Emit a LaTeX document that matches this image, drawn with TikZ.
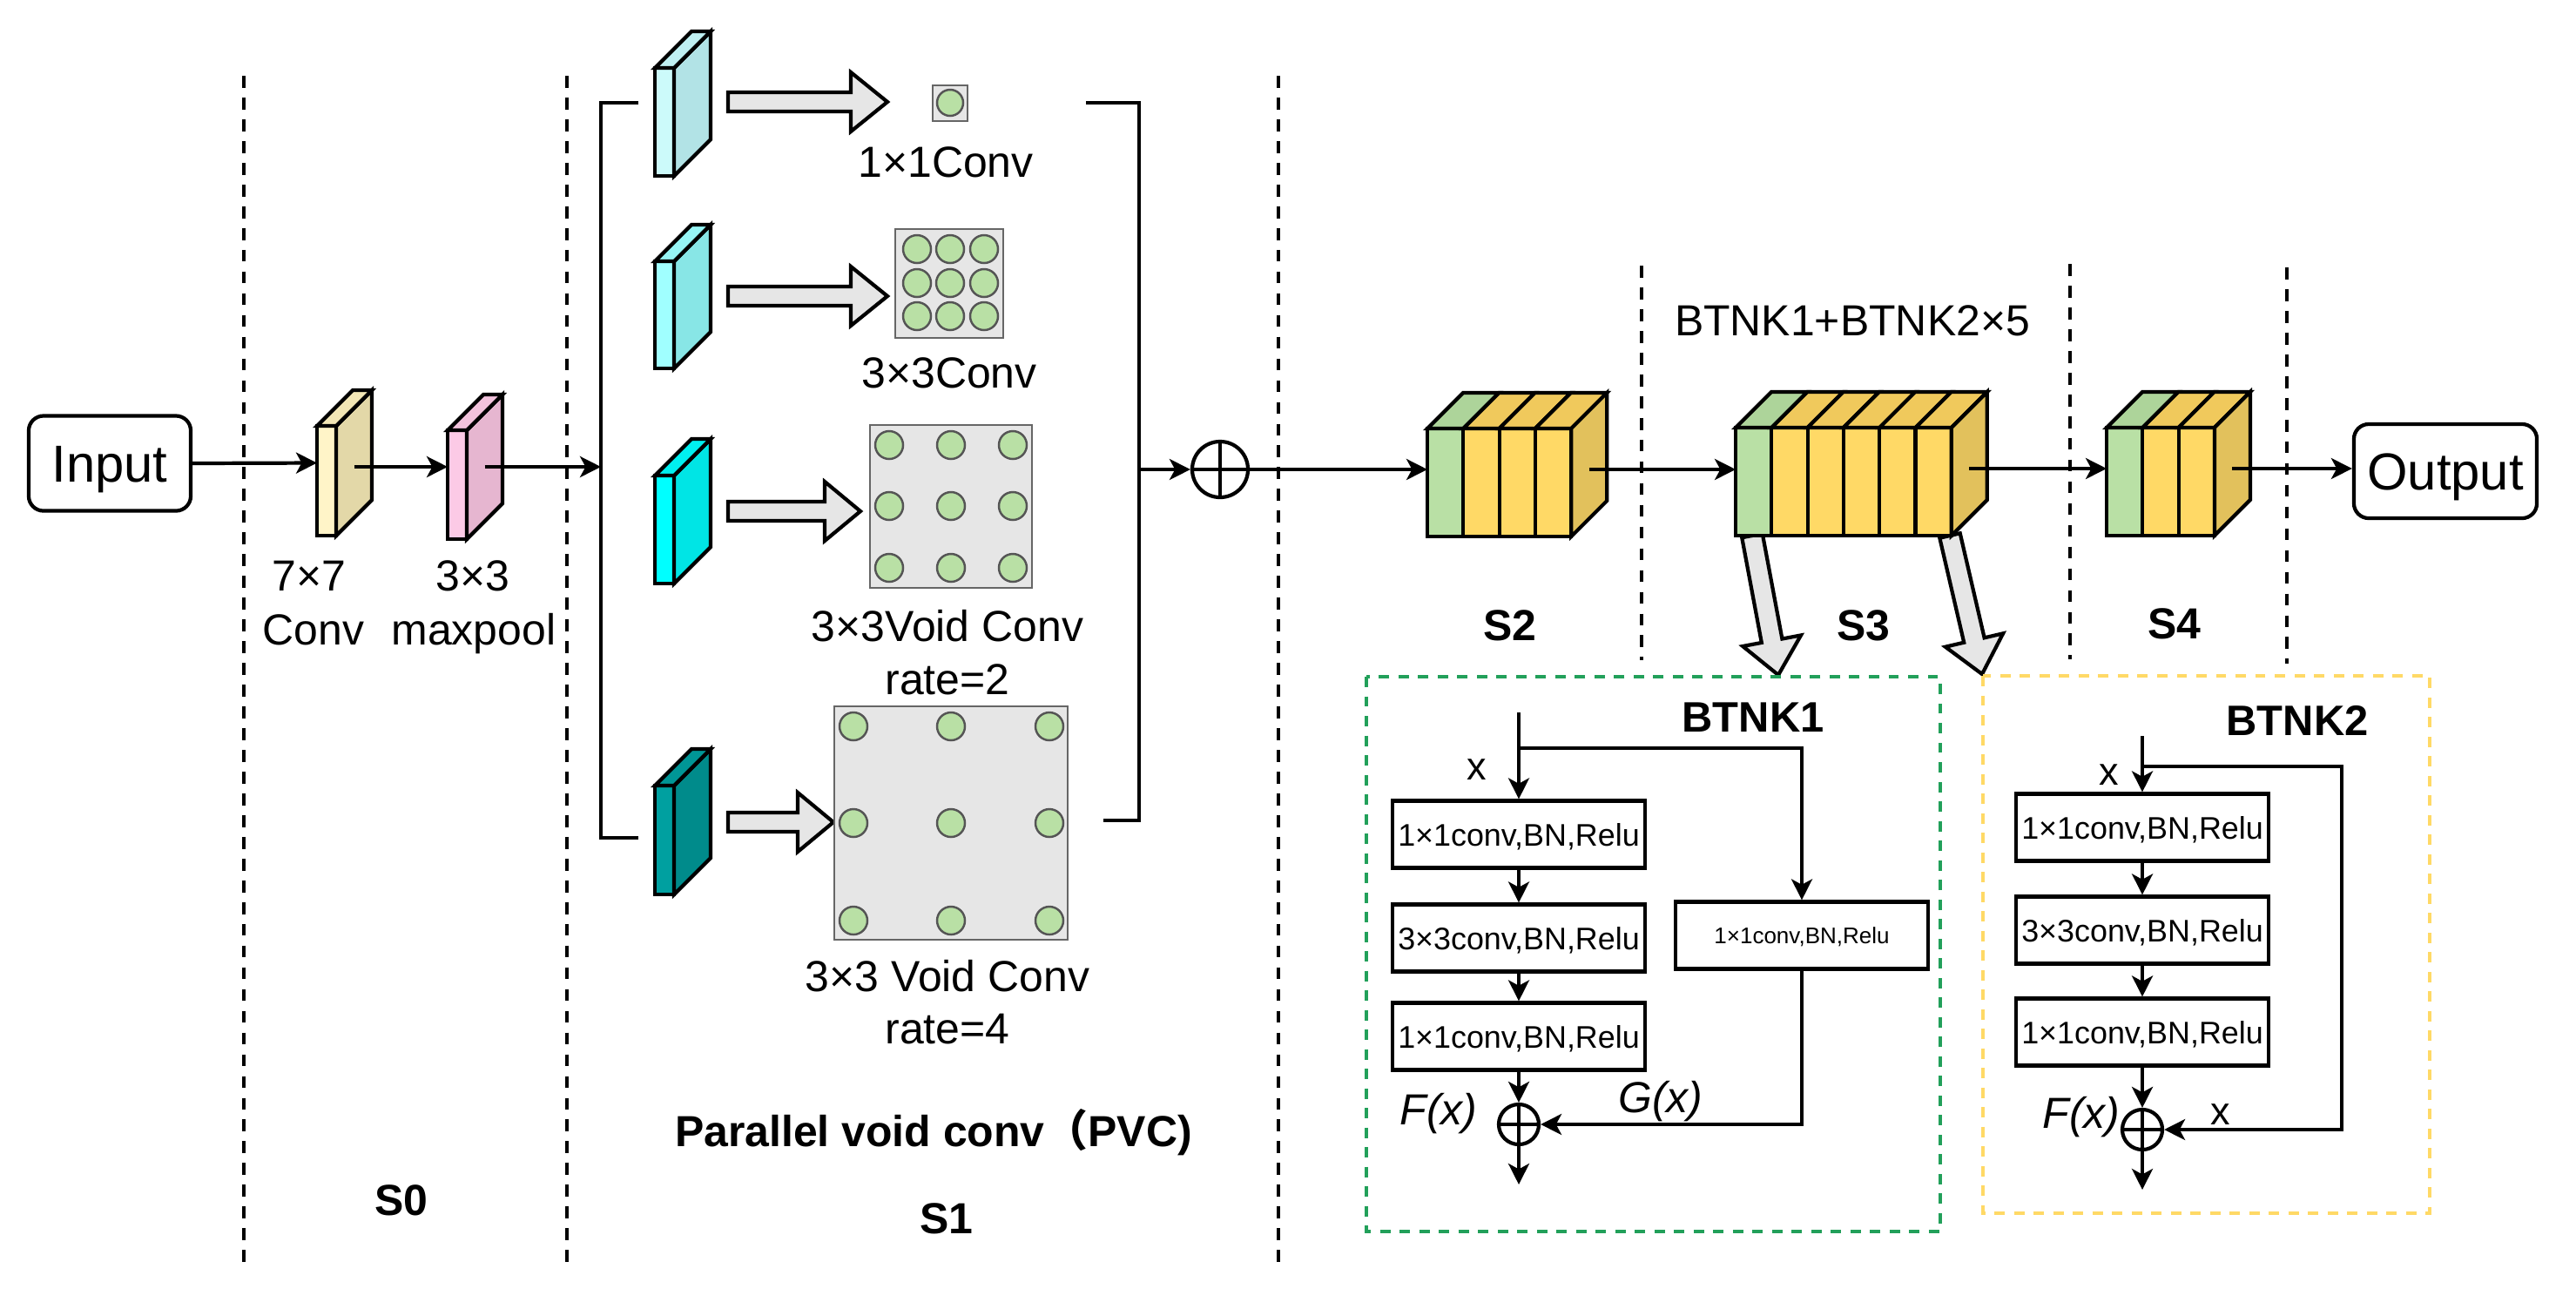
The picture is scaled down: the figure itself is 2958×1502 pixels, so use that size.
\documentclass[tikz,border=0pt]{standalone}
\usepackage{fontspec}
\setmainfont{Liberation Sans}
\newfontfamily\cjkfont{Noto Sans CJK SC}
\usetikzlibrary{arrows.meta,calc}
\definecolor{pAf}{HTML}{FFF4C8}\definecolor{pAs}{HTML}{E3D8A8}\definecolor{pAt}{HTML}{F2E6B5}
\definecolor{pBf}{HTML}{FCCAE6}\definecolor{pBs}{HTML}{E6B6D0}\definecolor{pBt}{HTML}{F2C2DC}
\definecolor{cAf}{HTML}{CCFAFA}\definecolor{cAs}{HTML}{B2E3E6}\definecolor{cAt}{HTML}{BFF0F2}
\definecolor{cBf}{HTML}{A0FFFF}\definecolor{cBs}{HTML}{88E6E6}\definecolor{cBt}{HTML}{96F5F5}
\definecolor{cCf}{HTML}{00FFFF}\definecolor{cCs}{HTML}{00E5E5}\definecolor{cCt}{HTML}{00F0F0}
\definecolor{cDf}{HTML}{00A0A0}\definecolor{cDs}{HTML}{008B8B}\definecolor{cDt}{HTML}{009696}
\definecolor{gfront}{HTML}{B9E0A5}\definecolor{gtop}{HTML}{ADD49A}
\definecolor{yfront}{HTML}{FFD966}\definecolor{ytopc}{HTML}{F0C95C}\definecolor{yside}{HTML}{E2C15C}
\definecolor{gridfill}{HTML}{E6E6E6}\definecolor{gridline}{HTML}{666666}
\definecolor{dotfill}{HTML}{B9E0A5}\definecolor{dotline}{HTML}{555555}
\definecolor{btgreen}{HTML}{22A05A}\definecolor{btyellow}{HTML}{FFD966}
\definecolor{arrfill}{HTML}{E6E6E6}

% prism: name, x-left, y-top(front), width, height, depth, front, side, top
\newcommand{\drawprism}[9]{%
  \draw[fill=#7] (#2,#3) rectangle ++(#4,#5);
  \draw[fill=#8] (#2+#4,#3) -- ++(#6,-#6) -- ++(0,#5) -- ++(-#6,#6) -- cycle;
  \draw[fill=#9] (#2,#3) -- ++(#6,-#6) -- ++(#4,0) -- ++(-#6,#6) -- cycle;
  \coordinate (#1-in) at (#2,#3+#5/2-#6/2);
  \coordinate (#1-out) at (#2+#4+#6/2,#3+#5/2-#6/2);
}
% block of slices: name, x-left, y-top, number of slices
\newcommand{\drawblock}[4]{%
  \foreach \i in {1,...,#4}{%
    \ifnum\i=1 \def\fcol{gfront}\def\tcol{gtop}\else\def\fcol{yfront}\def\tcol{ytopc}\fi
    \draw[fill=\fcol] (#2+\i*41.3-41.3,#3) rectangle ++(41.3,124);
    \draw[fill=\tcol] (#2+\i*41.3-41.3,#3) -- ++(41,-41) -- ++(41.3,0) -- ++(-41,41) -- cycle;
  }
  \draw[fill=yside] (#2+#4*41.3,#3) -- ++(41,-41) -- ++(0,124) -- ++(-41,41) -- cycle;
  \coordinate (#1-in) at (#2,#3+47);
  \coordinate (#1-out) at (#2+#4*41.3+20.5,#3+47);
}
% hollow block arrow: x0, x head, x tip, y centre
\newcommand{\blockarrow}[4]{%
  \draw[fill=arrfill] (#1,#4-11) -- (#2,#4-11) -- (#2,#4-34) -- (#3,#4) -- (#2,#4+34) -- (#2,#4+11) -- (#1,#4+11) -- cycle;
}

\begin{document}
\begin{tikzpicture}[x=0.01cm,y=-0.01cm,line width=1.2pt,
  >={Stealth[length=6.8pt,width=6.8pt,inset=1.8pt]},
  f50/.style={font=\fontsize{14.2pt}{17pt}\selectfont,inner sep=0pt,text height=0.36cm,text depth=0pt},
  f50b/.style={f50,font=\fontsize{14.2pt}{17pt}\selectfont\bfseries},
  f50i/.style={f50,font=\fontsize{14.2pt}{17pt}\selectfont\itshape},
  fx/.style={font=\fontsize{12.8pt}{15pt}\selectfont,inner sep=0pt,text height=0.24cm,text depth=0pt},
  rbox/.style={draw,rounded corners=0.17cm,font=\fontsize{17pt}{20pt}\selectfont,inner sep=0pt,text height=0.43cm,text depth=0pt},
  secline/.style={line width=0.9pt,dash pattern=on 3.9pt off 3.2pt},
  bbox/.style={draw,minimum width=2.9cm,minimum height=0.77cm,inner sep=0pt,font=\fontsize{10.2pt}{12pt}\selectfont,text height=0.26cm,text depth=0pt},
  sbox/.style={bbox,font=\fontsize{7.4pt}{9pt}\selectfont,text height=0.19cm},
  gridbox/.style={draw=gridline,fill=gridfill,line width=0.8pt},
  dot/.style={draw=dotline,fill=dotfill,line width=0.7pt},
  plusc/.style={draw,circle,inner sep=0pt},
  btg/.style={draw=btgreen,line width=1.2pt,dash pattern=on 3.4pt off 3pt},
  bty/.style={draw=btyellow,line width=1.2pt,dash pattern=on 3.4pt off 3pt}]
\useasboundingbox (0,0) rectangle (2958,1502);

% section separators
\draw[secline] (280,87) -- (280,1455);
\draw[secline] (651,87) -- (651,1455);
\draw[secline] (1468,87) -- (1468,1455);
\draw[secline] (1885,305) -- (1885,758);
\draw[secline] (2377,303) -- (2377,757);
\draw[secline] (2626,307) -- (2626,762);

% S0
\node[rbox,minimum width=1.86cm,minimum height=1.09cm] (input) at (126,532) {Input};
\drawprism{pa}{364}{489}{22}{126}{41}{pAf}{pAs}{pAt}
\drawprism{pb}{514}{494}{22}{125}{41}{pBf}{pBs}{pBt}
\draw[->] (input.east) -- (pa-in);
\draw[->] (pa-out |- pb-in) -- (pb-in);
\coordinate (brL) at (690,536);
\draw[->] (pb-out) -- (brL);
\node[f50] (l77) at (355,660) {7×7};
\node[f50] (lconv) at (360,722) {Conv};
\node[f50] (l33) at (543,660) {3×3};
\node[f50] (lmax) at (544,722) {maxpool};
\node[f50b] (s0) at (461,1377) {S0};

% S1 : parallel void conv
\draw (733,118) -- (690,118) -- (690,962) -- (733,962);
\draw (1247,118) -- (1308,118) -- (1308,942) -- (1267,942);
\drawprism{ba}{752}{78}{22}{124}{42}{cAf}{cAs}{cAt}
\drawprism{bb}{752}{300}{22}{123}{42}{cBf}{cBs}{cBt}
\drawprism{bc}{752}{546}{22}{124}{42}{cCf}{cCs}{cCt}
\drawprism{bd}{752}{902}{22}{125}{42}{cDf}{cDs}{cDt}
\blockarrow{836}{977}{1019}{117}
\blockarrow{836}{977}{1019}{340}
\blockarrow{836}{947}{988}{587}
\blockarrow{836}{916}{957}{944}
% kernels
\draw[gridbox] (1071,98) rectangle (1111,139);
\draw[dot] (1091,118) circle[radius=0.15cm];
\draw[gridbox] (1028,263) rectangle (1152,388);
\foreach \cx in {1053,1091,1130}{\foreach \cy in {286,325,363}{\draw[dot] (\cx,\cy) circle[radius=0.16cm];}}
\draw[gridbox] (999,488) rectangle (1185,675);
\foreach \cx in {1021,1092,1163}{\foreach \cy in {511,581,652}{\draw[dot] (\cx,\cy) circle[radius=0.16cm];}}
\draw[gridbox] (958,811) rectangle (1226,1079);
\foreach \cx in {980,1092,1205}{\foreach \cy in {834,945,1057}{\draw[dot] (\cx,\cy) circle[radius=0.16cm];}}
\node[f50] (k11) at (1086,185) {1×1Conv};
\node[f50] (k33) at (1090,427) {3×3Conv};
\node[f50] (kv2) at (1088,718) {3×3Void Conv};
\node[f50] (kr2) at (1088,779) {rate=2};
\node[f50] (kv4) at (1088,1120) {3×3 Void Conv};
\node[f50] (kr4) at (1088,1180) {rate=4};
\node[f50b] (pvc) at (1072,1298) {Parallel void conv{\cjkfont\bfseries （}PVC)};
\node[f50b] (s1) at (1087,1398) {S1};

% sum and stages
\node[plusc,minimum size=0.64cm] (sum) at (1401,539) {};
\draw (sum.north) -- (sum.south) (sum.west) -- (sum.east);
\coordinate (brR) at (1308,539);
\draw[->] (brR) -- (sum.west);

% down arrows from S3 (behind block)
\draw[fill=arrfill] (2000.2,617.2) -- (2022.8,737.9) -- (2001.2,742.0) -- (2042,775) -- (2068.0,729.4) -- (2046.4,733.5) -- (2023.8,612.8) -- cycle;
\draw[fill=arrfill] (2227.3,617.7) -- (2255.2,737.7) -- (2233.8,742.7) -- (2276,774) -- (2300.1,727.3) -- (2278.6,732.3) -- (2250.7,612.3) -- cycle;

\drawblock{sa}{1639}{492}{4}
\drawblock{sb}{1993}{491}{6}
\drawblock{sc}{2419}{491}{3}
\node[rbox,minimum width=2.10cm,minimum height=1.08cm] (output) at (2808,541) {Output};
\draw[->] (sum.east) -- (sum.east -| sa-in);
\draw[->] (sa-out) -- (sa-out -| sb-in);
\draw[->] (sb-out) -- (sb-out -| sc-in);
\draw[->] (sc-out) -- (sc-out -| output.west);
\node[f50] (btl) at (2127,367) {BTNK1+BTNK2×5};
\node[f50b] (s2) at (1734,717) {S2};
\node[f50b] (s3) at (2140,717) {S3};
\node[f50b] (s4) at (2497,715) {S4};

% BTNK1
\draw[btg] (1569,777) rectangle (2228,1414);
\node[f50b,font=\fontsize{13.9pt}{17pt}\selectfont\bfseries] (t1) at (2013,822) {BTNK1};
\node[bbox] (k1a) at (1744,958) {1×1conv,BN,Relu};
\node[bbox] (k1b) at (1744,1077) {3×3conv,BN,Relu};
\node[bbox] (k1c) at (1744,1190) {1×1conv,BN,Relu};
\node[sbox] (k1d) at (2069,1074) {1×1conv,BN,Relu};
\node[plusc,minimum size=0.46cm] (k1s) at (1744,1291) {};
\draw (k1s.north) -- (k1s.south) (k1s.west) -- (k1s.east);
\coordinate (k1in) at (1744,818);
\coordinate (k1br) at (1744,859);
\coordinate (k1out) at (1744,1360);
\draw[->] (k1in) -- (k1a);
\draw[->] (k1br) -| (k1d.north);
\draw[->] (k1a) -- (k1b);
\draw[->] (k1b) -- (k1c);
\draw[->] (k1c) -- (k1s);
\draw[->] (k1d.south) |- (k1s.east);
\draw[->] (k1s) -- (k1out);
\node[fx] (x1) at (1696,883) {x};
\node[f50i] (fx1) at (1652,1273) {F(x)};
\node[f50i] (gx1) at (1907,1259) {G(x)};

% BTNK2
\draw[bty] (2277,776) rectangle (2790,1393);
\node[f50b,font=\fontsize{13.9pt}{17pt}\selectfont\bfseries] (t2) at (2638,826) {BTNK2};
\node[bbox] (k2a) at (2460,950) {1×1conv,BN,Relu};
\node[bbox] (k2b) at (2460,1068) {3×3conv,BN,Relu};
\node[bbox] (k2c) at (2460,1185) {1×1conv,BN,Relu};
\node[plusc,minimum size=0.46cm] (k2s) at (2460,1297) {};
\draw (k2s.north) -- (k2s.south) (k2s.west) -- (k2s.east);
\coordinate (k2in) at (2460,845);
\coordinate (k2br) at (2460,880);
\coordinate (k2cr) at (2689,880);
\coordinate (k2out) at (2460,1366);
\draw[->] (k2in) -- (k2a);
\draw[->] (k2br) -- (k2cr) |- (k2s.east);
\draw[->] (k2a) -- (k2b);
\draw[->] (k2b) -- (k2c);
\draw[->] (k2c) -- (k2s);
\draw[->] (k2s) -- (k2out);
\node[fx] (x2) at (2422,889) {x};
\node[f50i] (fx2) at (2390,1277) {F(x)};
\node[fx] (x3) at (2550,1279) {x};
\end{tikzpicture}
\end{document}
